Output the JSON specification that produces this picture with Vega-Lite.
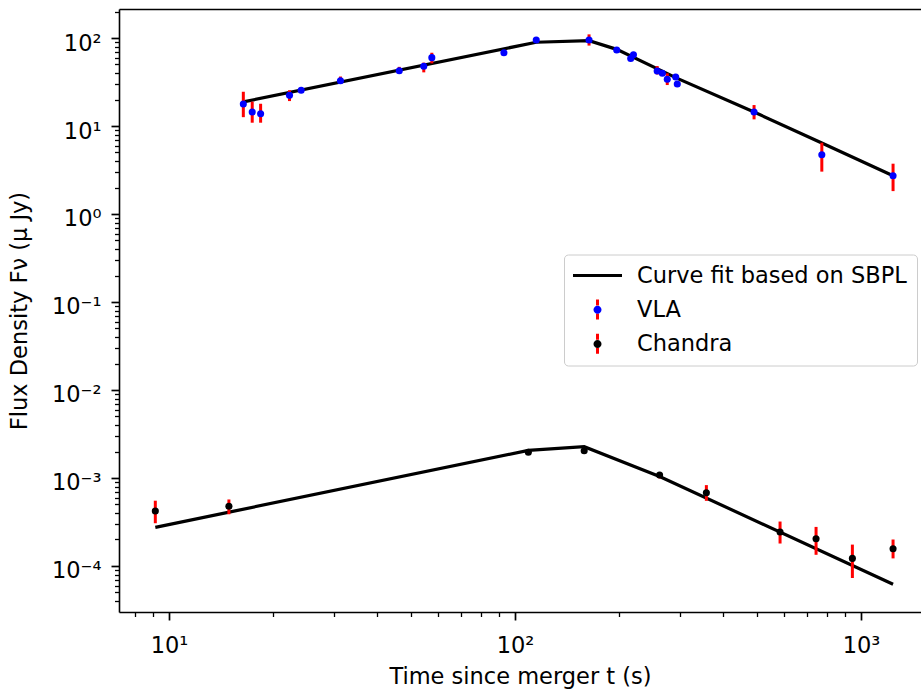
{
  "$schema": "https://vega.github.io/schema/vega-lite/v6.json",
  "width": 802,
  "height": 603,
  "autosize": "none",
  "padding": {"left": 119, "top": 9, "right": 0, "bottom": 81},
  "background": "white",
  "datasets": {
    "obs": [
      {"instrument": "VLA", "t": 16.4, "flux": 17.8, "lo": 12.6, "hi": 24.5},
      {"instrument": "VLA", "t": 17.4, "flux": 14.4, "lo": 10.9, "hi": 18.9},
      {"instrument": "VLA", "t": 18.4, "flux": 13.8, "lo": 10.9, "hi": 17.9},
      {"instrument": "VLA", "t": 22.3, "flux": 22.3, "lo": 19.2, "hi": 25.5},
      {"instrument": "VLA", "t": 24.1, "flux": 25.5, "lo": 24.2, "hi": 26.8},
      {"instrument": "VLA", "t": 31.3, "flux": 32.7, "lo": 30.5, "hi": 36.5},
      {"instrument": "VLA", "t": 46.3, "flux": 42.5, "lo": 40, "hi": 47},
      {"instrument": "VLA", "t": 54.5, "flux": 47.7, "lo": 40.7, "hi": 52.5},
      {"instrument": "VLA", "t": 57.5, "flux": 59.8, "lo": 51.5, "hi": 68},
      {"instrument": "VLA", "t": 92.9, "flux": 68.1, "lo": 65.5, "hi": 70.8},
      {"instrument": "VLA", "t": 115.2, "flux": 94.9, "lo": 91, "hi": 99},
      {"instrument": "VLA", "t": 163.7, "flux": 94.9, "lo": 82, "hi": 110},
      {"instrument": "VLA", "t": 196.8, "flux": 73.1, "lo": 70, "hi": 76.5},
      {"instrument": "VLA", "t": 216, "flux": 58.5, "lo": 55.5, "hi": 61.5},
      {"instrument": "VLA", "t": 220, "flux": 64.5, "lo": 61.5, "hi": 67.5},
      {"instrument": "VLA", "t": 257.6, "flux": 42.2, "lo": 38.5, "hi": 48},
      {"instrument": "VLA", "t": 266.6, "flux": 39.7, "lo": 37, "hi": 42.5},
      {"instrument": "VLA", "t": 275.5, "flux": 34, "lo": 29.2, "hi": 39.7},
      {"instrument": "VLA", "t": 291.4, "flux": 36.1, "lo": 34, "hi": 38.3},
      {"instrument": "VLA", "t": 294.5, "flux": 30, "lo": 28.3, "hi": 31.8},
      {"instrument": "VLA", "t": 490.9, "flux": 14.4, "lo": 11.9, "hi": 17.3},
      {"instrument": "VLA", "t": 770.6, "flux": 4.72, "lo": 3.03, "hi": 6.46},
      {"instrument": "VLA", "t": 1238, "flux": 2.72, "lo": 1.82, "hi": 3.73},
      {"instrument": "Chandra", "t": 9.13, "flux": 0.000422, "lo": 0.000306, "hi": 0.000552},
      {"instrument": "Chandra", "t": 14.9, "flux": 0.000477, "lo": 0.000387, "hi": 0.00057},
      {"instrument": "Chandra", "t": 109.3, "flux": 0.00196, "lo": 0.00187, "hi": 0.00206},
      {"instrument": "Chandra", "t": 158.5, "flux": 0.00204, "lo": 0.00195, "hi": 0.00214},
      {"instrument": "Chandra", "t": 261.8, "flux": 0.00108, "lo": 0.00099, "hi": 0.00117},
      {"instrument": "Chandra", "t": 357.4, "flux": 0.000681, "lo": 0.00055, "hi": 0.00083},
      {"instrument": "Chandra", "t": 583.6, "flux": 0.000243, "lo": 0.00018, "hi": 0.00032},
      {"instrument": "Chandra", "t": 741.6, "flux": 0.000204, "lo": 0.000134, "hi": 0.000278},
      {"instrument": "Chandra", "t": 944.4, "flux": 0.000122, "lo": 0.000073, "hi": 0.000175},
      {"instrument": "Chandra", "t": 1238, "flux": 0.000157, "lo": 0.000122, "hi": 0.0002}
    ],
    "fit": [
      {"series": "VLA", "t": 16.4, "flux": 18.8},
      {"series": "VLA", "t": 115.2, "flux": 89.5},
      {"series": "VLA", "t": 163.7, "flux": 93.3},
      {"series": "VLA", "t": 196.8, "flux": 74.3},
      {"series": "VLA", "t": 294.5, "flux": 34.8},
      {"series": "VLA", "t": 490.9, "flux": 14.4},
      {"series": "VLA", "t": 770.6, "flux": 6.4},
      {"series": "VLA", "t": 1238, "flux": 2.72},
      {"series": "Chandra", "t": 9.13, "flux": 0.000275},
      {"series": "Chandra", "t": 109.3, "flux": 0.00206},
      {"series": "Chandra", "t": 158.5, "flux": 0.00227},
      {"series": "Chandra", "t": 261.8, "flux": 0.00104},
      {"series": "Chandra", "t": 1238, "flux": 0.000062}
    ]
  },
  "layer": [
    {
      "data": {"name": "fit"},
      "mark": {"type": "line", "color": "black", "strokeWidth": 3.2},
      "encoding": {
        "x": {"field": "t", "type": "quantitative", "scale": {"type": "log", "domain": [7.17, 1491], "nice": false}, "axis": null},
        "y": {"field": "flux", "type": "quantitative", "scale": {"type": "log", "domain": [0.00003, 213.6], "nice": false},
          "axis": {"title": "Flux Density Fν (μ Jy)", "values": [0.00004, 0.00005, 0.00006, 0.00007, 0.00008, 0.00009, 0.0001, 0.0002, 0.0003, 0.0004, 0.0005, 0.0006, 0.0007, 0.0008, 0.0009, 0.001, 0.002, 0.003, 0.004, 0.005, 0.006, 0.007, 0.008, 0.009, 0.01, 0.02, 0.03, 0.04, 0.05, 0.06, 0.07, 0.08, 0.09, 0.1, 0.2, 0.3, 0.4, 0.5, 0.6, 0.7, 0.8, 0.9, 1, 2, 3, 4, 5, 6, 7, 8, 9, 10, 20, 30, 40, 50, 60, 70, 80, 90, 100, 200],
            "labelExpr": "datum.value == 100 ? '10²' : datum.value == 10 ? '10¹' : datum.value == 1 ? '10⁰' : datum.value == 0.1 ? '10⁻¹' : datum.value == 0.01 ? '10⁻²' : datum.value == 0.001 ? '10⁻³' : datum.value == 0.0001 ? '10⁻⁴' : ''",
            "tickSize": {"condition": {"test": "indexof([0.0001, 0.001, 0.01, 0.1, 1, 10, 100], datum.value) >= 0", "value": 8}, "value": 4.5},
            "tickWidth": {"condition": {"test": "indexof([0.0001, 0.001, 0.01, 0.1, 1, 10, 100], datum.value) >= 0", "value": 1.7}, "value": 1.3},
            "labelPadding": 10, "labelOffset": 5, "labelBaseline": "middle", "labelOverlap": false, "labelFlush": false, "titlePadding": 20}
        },
        "detail": {"field": "series"}
      }
    },
    {
      "data": {"name": "obs"},
      "mark": {"type": "rule", "strokeWidth": 3, "color": "red"},
      "encoding": {
        "x": {"field": "t", "type": "quantitative", "scale": {"type": "log", "domain": [7.17, 1491], "nice": false},
          "axis": {"orient": "bottom", "title": "Time since merger t (s)", "values": [8, 9, 10, 20, 30, 40, 50, 60, 70, 80, 90, 100, 200, 300, 400, 500, 600, 700, 800, 900, 1000],
            "labelExpr": "datum.value == 10 ? '10¹' : datum.value == 100 ? '10²' : datum.value == 1000 ? '10³' : ''",
            "tickSize": {"condition": {"test": "indexof([10, 100, 1000], datum.value) >= 0", "value": 8}, "value": 4.5},
            "tickWidth": {"condition": {"test": "indexof([10, 100, 1000], datum.value) >= 0", "value": 1.7}, "value": 1.3},
            "labelPadding": 14, "labelOverlap": false, "labelFlush": false, "titlePadding": 9}},
        "y": {"field": "lo", "type": "quantitative", "scale": {"type": "log", "domain": [0.00003, 213.6], "nice": false},
          "axis": {"title": "Flux Density Fν (μ Jy)", "values": [0.00004, 0.00005, 0.00006, 0.00007, 0.00008, 0.00009, 0.0001, 0.0002, 0.0003, 0.0004, 0.0005, 0.0006, 0.0007, 0.0008, 0.0009, 0.001, 0.002, 0.003, 0.004, 0.005, 0.006, 0.007, 0.008, 0.009, 0.01, 0.02, 0.03, 0.04, 0.05, 0.06, 0.07, 0.08, 0.09, 0.1, 0.2, 0.3, 0.4, 0.5, 0.6, 0.7, 0.8, 0.9, 1, 2, 3, 4, 5, 6, 7, 8, 9, 10, 20, 30, 40, 50, 60, 70, 80, 90, 100, 200],
            "labelExpr": "datum.value == 100 ? '10²' : datum.value == 10 ? '10¹' : datum.value == 1 ? '10⁰' : datum.value == 0.1 ? '10⁻¹' : datum.value == 0.01 ? '10⁻²' : datum.value == 0.001 ? '10⁻³' : datum.value == 0.0001 ? '10⁻⁴' : ''",
            "tickSize": {"condition": {"test": "indexof([0.0001, 0.001, 0.01, 0.1, 1, 10, 100], datum.value) >= 0", "value": 8}, "value": 4.5},
            "tickWidth": {"condition": {"test": "indexof([0.0001, 0.001, 0.01, 0.1, 1, 10, 100], datum.value) >= 0", "value": 1.7}, "value": 1.3},
            "labelPadding": 10, "labelOffset": 5, "labelBaseline": "middle", "labelOverlap": false, "labelFlush": false, "titlePadding": 20}},
        "y2": {"field": "hi"},
        "fill": {"field": "instrument", "type": "nominal",
          "scale": {"domain": ["Curve fit based on SBPL", "VLA", "Chandra"], "range": ["transparent", "red", "red"]},
          "legend": {"orient": "none", "legendX": 445, "legendY": 245.5, "title": null,
            "symbolSize": 400, "symbolStrokeWidth": 0,
            "symbolOffset": 12.75, "labelOffset": 28, "padding": 9.5, "rowPadding": 11.25,
            "labelFont": "DejaVu Sans", "labelFontSize": 22.5, "labelExpr": "''", "labelLimit": 600,
            "encoding": {"symbols": {
              "shape": {"value": "M-0.15,-1H0.15V-0.4H-0.15ZM-0.15,0.4H0.15V1H-0.15Z"},
              "fill": {"value": {"expr": "datum.value === 'VLA' || datum.value === 'Chandra' ? 'red' : 'transparent'"}},
              "stroke": {"value": "transparent"},
              "strokeWidth": {"value": 0},
              "opacity": {"value": 1}
            }}}}
      }
    },
    {
      "data": {"name": "obs"},
      "mark": {"type": "circle", "size": 50, "opacity": 1, "strokeWidth": 0},
      "encoding": {
        "x": {"field": "t", "type": "quantitative", "scale": {"type": "log", "domain": [7.17, 1491], "nice": false},
          "axis": {"orient": "top", "title": null, "labels": false, "ticks": false, "domain": true}},
        "y": {"field": "flux", "type": "quantitative", "scale": {"type": "log", "domain": [0.00003, 213.6], "nice": false},
          "axis": {"title": "Flux Density Fν (μ Jy)", "values": [0.00004, 0.00005, 0.00006, 0.00007, 0.00008, 0.00009, 0.0001, 0.0002, 0.0003, 0.0004, 0.0005, 0.0006, 0.0007, 0.0008, 0.0009, 0.001, 0.002, 0.003, 0.004, 0.005, 0.006, 0.007, 0.008, 0.009, 0.01, 0.02, 0.03, 0.04, 0.05, 0.06, 0.07, 0.08, 0.09, 0.1, 0.2, 0.3, 0.4, 0.5, 0.6, 0.7, 0.8, 0.9, 1, 2, 3, 4, 5, 6, 7, 8, 9, 10, 20, 30, 40, 50, 60, 70, 80, 90, 100, 200],
            "labelExpr": "datum.value == 100 ? '10²' : datum.value == 10 ? '10¹' : datum.value == 1 ? '10⁰' : datum.value == 0.1 ? '10⁻¹' : datum.value == 0.01 ? '10⁻²' : datum.value == 0.001 ? '10⁻³' : datum.value == 0.0001 ? '10⁻⁴' : ''",
            "tickSize": {"condition": {"test": "indexof([0.0001, 0.001, 0.01, 0.1, 1, 10, 100], datum.value) >= 0", "value": 8}, "value": 4.5},
            "tickWidth": {"condition": {"test": "indexof([0.0001, 0.001, 0.01, 0.1, 1, 10, 100], datum.value) >= 0", "value": 1.7}, "value": 1.3},
            "labelPadding": 10, "labelOffset": 5, "labelBaseline": "middle", "labelOverlap": false, "labelFlush": false, "titlePadding": 20}},
        "fill": {"field": "instrument", "type": "nominal",
          "scale": {"domain": ["Curve fit based on SBPL", "VLA", "Chandra"], "range": ["black", "blue", "black"]},
          "legend": {"orient": "none", "legendX": 445, "legendY": 245.5, "title": null,
            "symbolSize": 400, "symbolStrokeWidth": 3,
            "symbolOffset": 12.5, "labelOffset": 28, "padding": 9.5, "rowPadding": 11.25,
            "fillColor": "transparent", "strokeColor": "#cccccc", "cornerRadius": 4,
            "labelFont": "DejaVu Sans", "labelFontSize": 22.5, "labelColor": "black", "labelLimit": 600,
            "encoding": {"symbols": {
              "shape": {"value": {"expr": "datum.value === 'VLA' || datum.value === 'Chandra' ? 'M0.4,0A0.4,0.4,0,1,1,-0.4,0A0.4,0.4,0,1,1,0.4,0Z' : 'M-2.45,0H2.45'"}},
              "fill": {"value": {"expr": "datum.value === 'VLA' ? 'blue' : datum.value === 'Chandra' ? 'black' : 'transparent'"}},
              "stroke": {"value": {"expr": "datum.value === 'VLA' || datum.value === 'Chandra' ? 'transparent' : 'black'"}},
              "strokeWidth": {"value": 3},
              "opacity": {"value": 1}
            }}}}
      }
    }
  ],
  "resolve": {"axis": {"x": "independent"}, "scale": {"fill": "independent"}, "legend": {"fill": "independent"}},
  "config": {
    "view": {"stroke": null},
    "font": "DejaVu Sans",
    "axis": {"grid": false, "domainColor": "black", "domainWidth": 1.6, "tickColor": "black", "labelColor": "black",
      "labelFont": "DejaVu Sans", "labelFontSize": 22.5, "titleFont": "DejaVu Sans", "titleFontSize": 22.5,
      "titleFontWeight": "normal", "titleColor": "black"}
  }
}
